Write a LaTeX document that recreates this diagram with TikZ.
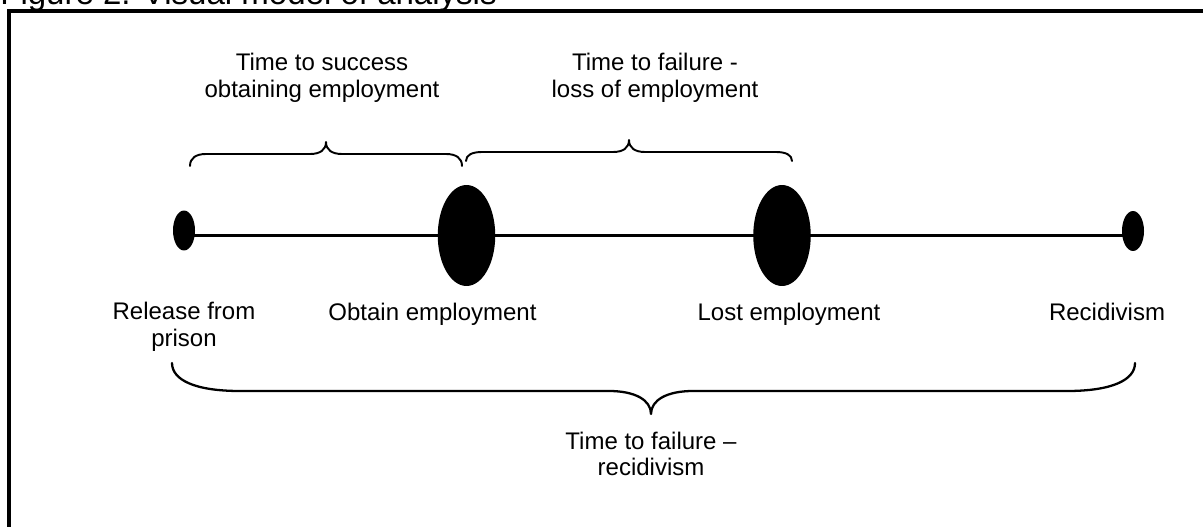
\documentclass[tikz,border=0pt]{standalone}
\usepackage{fontspec}
\setmainfont{Liberation Sans}
\usetikzlibrary{shapes.geometric}
\begin{document}
\begin{tikzpicture}[x=0.02cm,y=-0.02cm,
  lbl/.style={font=\fontsize{13.66pt}{14.8pt}\selectfont, align=center, inner sep=0pt, anchor=base},
  dot/.style={ellipse, fill=black, draw=none, inner sep=0pt},
  smalldot/.style={dot, minimum width=0.44cm, minimum height=0.8cm},
  bigdot/.style={dot, minimum width=1.15cm, minimum height=2.02cm},
  timeline/.style={line width=2pt},
  bracepath/.style={line width=1.1pt, line join=round, line cap=round},
  frame/.style={line width=2.4pt}]
\useasboundingbox (0,0) rectangle (1203,527);
\clip (0,0) rectangle (1203,527);

% caption above the frame
\node[font=\fontsize{18.8pt}{20pt}\selectfont, inner sep=0pt, anchor=base west] (title) at (0,5) {Figure 2. Visual model of analysis};

% frame around the figure
\draw[frame] (8.8,600) -- (8.8,11.3) -- (1250,11.3);

% events on the time line
\node[smalldot] (e1) at (184,230.5) {};
\node[bigdot]   (e2) at (466.5,235.5) {};
\node[bigdot]   (e3) at (782,235.5) {};
\node[smalldot] (e4) at (1133,231) {};
\draw[timeline] (e1.center |- e2.center) -- (e4.center |- e2.center);

% braces over the two employment intervals
\draw[bracepath] (190,166) .. controls (190,158) and (196,154) .. (206,154) -- (310,154)
  .. controls (320,154) and (326,150) .. (326,142)
  .. controls (326,150) and (332,154) .. (342,154) -- (446,154)
  .. controls (456,154) and (462,158) .. (462,166);
\draw[bracepath] (466,161) .. controls (466,155) and (472,152) .. (482,152) -- (613,152)
  .. controls (623,152) and (629,148) .. (629,140)
  .. controls (629,148) and (635,152) .. (645,152) -- (776,152)
  .. controls (786,152) and (792,155) .. (792,161);

% brace under the whole period
\draw[bracepath, line width=1.3pt] (172,363) .. controls (172,380) and (195,391) .. (240,391) -- (609,391)
  .. controls (635,391) and (651,400) .. (651,414)
  .. controls (651,400) and (667,391) .. (693,391) -- (1067,391)
  .. controls (1112,391) and (1135,380) .. (1135,363);

% labels (base anchor sits on the last line)
\node[lbl] (t1) at (322,97) {Time to success\\obtaining employment};
\node[lbl] (t2) at (655,97) {Time to failure -\\loss of employment};
\node[lbl] (l1) at (184,346) {Release from\\prison};
\node[lbl] (l2) at (432.5,320) {Obtain employment};
\node[lbl] (l3) at (789,320) {Lost employment};
\node[lbl] (l4) at (1107,320) {Recidivism};
\node[lbl] (t3) at (651,475) {Time to failure –\\recidivism};
\end{tikzpicture}
\end{document}
